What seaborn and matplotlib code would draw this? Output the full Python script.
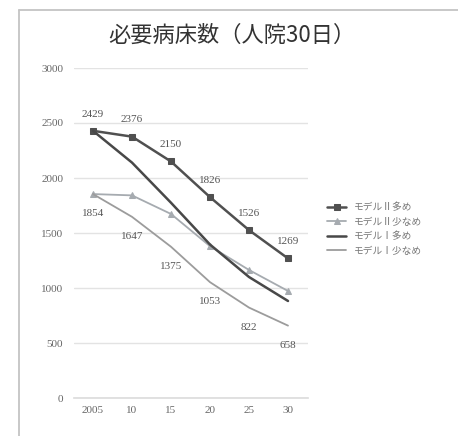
import matplotlib
matplotlib.use("Agg")
import matplotlib.pyplot as plt
import seaborn as sns
import pandas as pd
from matplotlib.lines import Line2D

years = ["2005", "10", "15", "20", "25", "30"]
m2_high = [2429, 2376, 2150, 1826, 1526, 1269]
m2_low = [1854, 1842, 1673, 1380, 1164, 973]
m1_high = [2429, 2140, 1775, 1395, 1100, 882]
m1_low = [1854, 1647, 1375, 1053, 822, 658]
names = ["モデルⅡ多め", "モデルⅡ少なめ", "モデルⅠ多め", "モデルⅠ少なめ"]

sns.set_theme(style="white")
plt.rcParams['font.family'] = ['Noto Sans CJK JP', 'DejaVu Sans']

rows = []
for name, vals in zip(names, [m2_high, m2_low, m1_high, m1_low]):
    for i, v in enumerate(vals):
        rows.append({"pos": i, "value": v, "series": name})
df = pd.DataFrame(rows)

fig = plt.figure(figsize=(4.58, 4.36), dpi=100)
fy = 1 - 10/436
fx = 19/458
fig.lines.append(Line2D([fx, fx], [0, fy], transform=fig.transFigure, color="#c4c4c4", linewidth=1.3))
fig.lines.append(Line2D([fx, 1], [fy, fy], transform=fig.transFigure, color="#c4c4c4", linewidth=1.3))
ax = fig.add_axes([73.5/458, (436-398)/436, 234/458, 330/436])

palette = {names[0]: "#505050", names[1]: "#a6abb0", names[2]: "#484848", names[3]: "#9c9c9c"}
markers = {names[0]: "s", names[1]: "^", names[2]: None, names[3]: None}
msize = {names[0]: 5, names[1]: 4.5, names[2]: 0, names[3]: 0}
widths = {names[0]: 1.8, names[1]: 1.3, names[2]: 1.8, names[3]: 1.3}
for name in names:
    sub = df[df.series == name]
    kw = {}
    if markers[name]:
        kw = dict(marker=markers[name], markersize=msize[name], markeredgecolor=palette[name])
    sns.lineplot(data=sub, x="pos", y="value", ax=ax, color=palette[name],
                 linewidth=widths[name], label=name, **kw)

serif = ['Liberation Serif', 'DejaVu Serif']
for i, v in enumerate(m2_high):
    ax.annotate(str(v), (i, v), textcoords="offset points", xytext=(0, 12), ha="center", va="center",
                fontsize=8, color="#555555", family=serif)
for i, v in enumerate(m1_low):
    ax.annotate(str(v), (i, v), textcoords="offset points", xytext=(0, -14), ha="center", va="center",
                fontsize=8, color="#555555", family=serif)

ax.set_xlim(-0.5, 5.5)
ax.set_ylim(0, 3000)
ax.set_yticks(range(0, 3001, 500))
ax.set_xticks(range(6))
ax.set_xticklabels(years)
for lab in ax.get_xticklabels() + ax.get_yticklabels():
    lab.set_family(serif)
    lab.set_fontsize(8)
    lab.set_color("#666666")
ax.tick_params(axis="y", pad=7.5, length=0)
ax.tick_params(axis="x", pad=6, length=0)
ax.grid(axis="y", color="#e3e3e3", linewidth=1)
for s in ["top", "right", "left"]:
    ax.spines[s].set_visible(False)
ax.spines["bottom"].set_color("#dddddd")
ax.set_xlabel("")
ax.set_ylabel("")

ax.legend(loc="center left", bbox_to_anchor=((322 - 73.5)/234, (398 - 229)/330), frameon=False,
          fontsize=7, labelcolor="#777777", handlelength=2.0, labelspacing=0.45, borderpad=0)
fig.text(232/458, 1 - 35/436, "必要病床数（人院30日）", ha="center", va="center",
         fontsize=16, color="#333333")
fig.savefig("out.png", dpi=100)
